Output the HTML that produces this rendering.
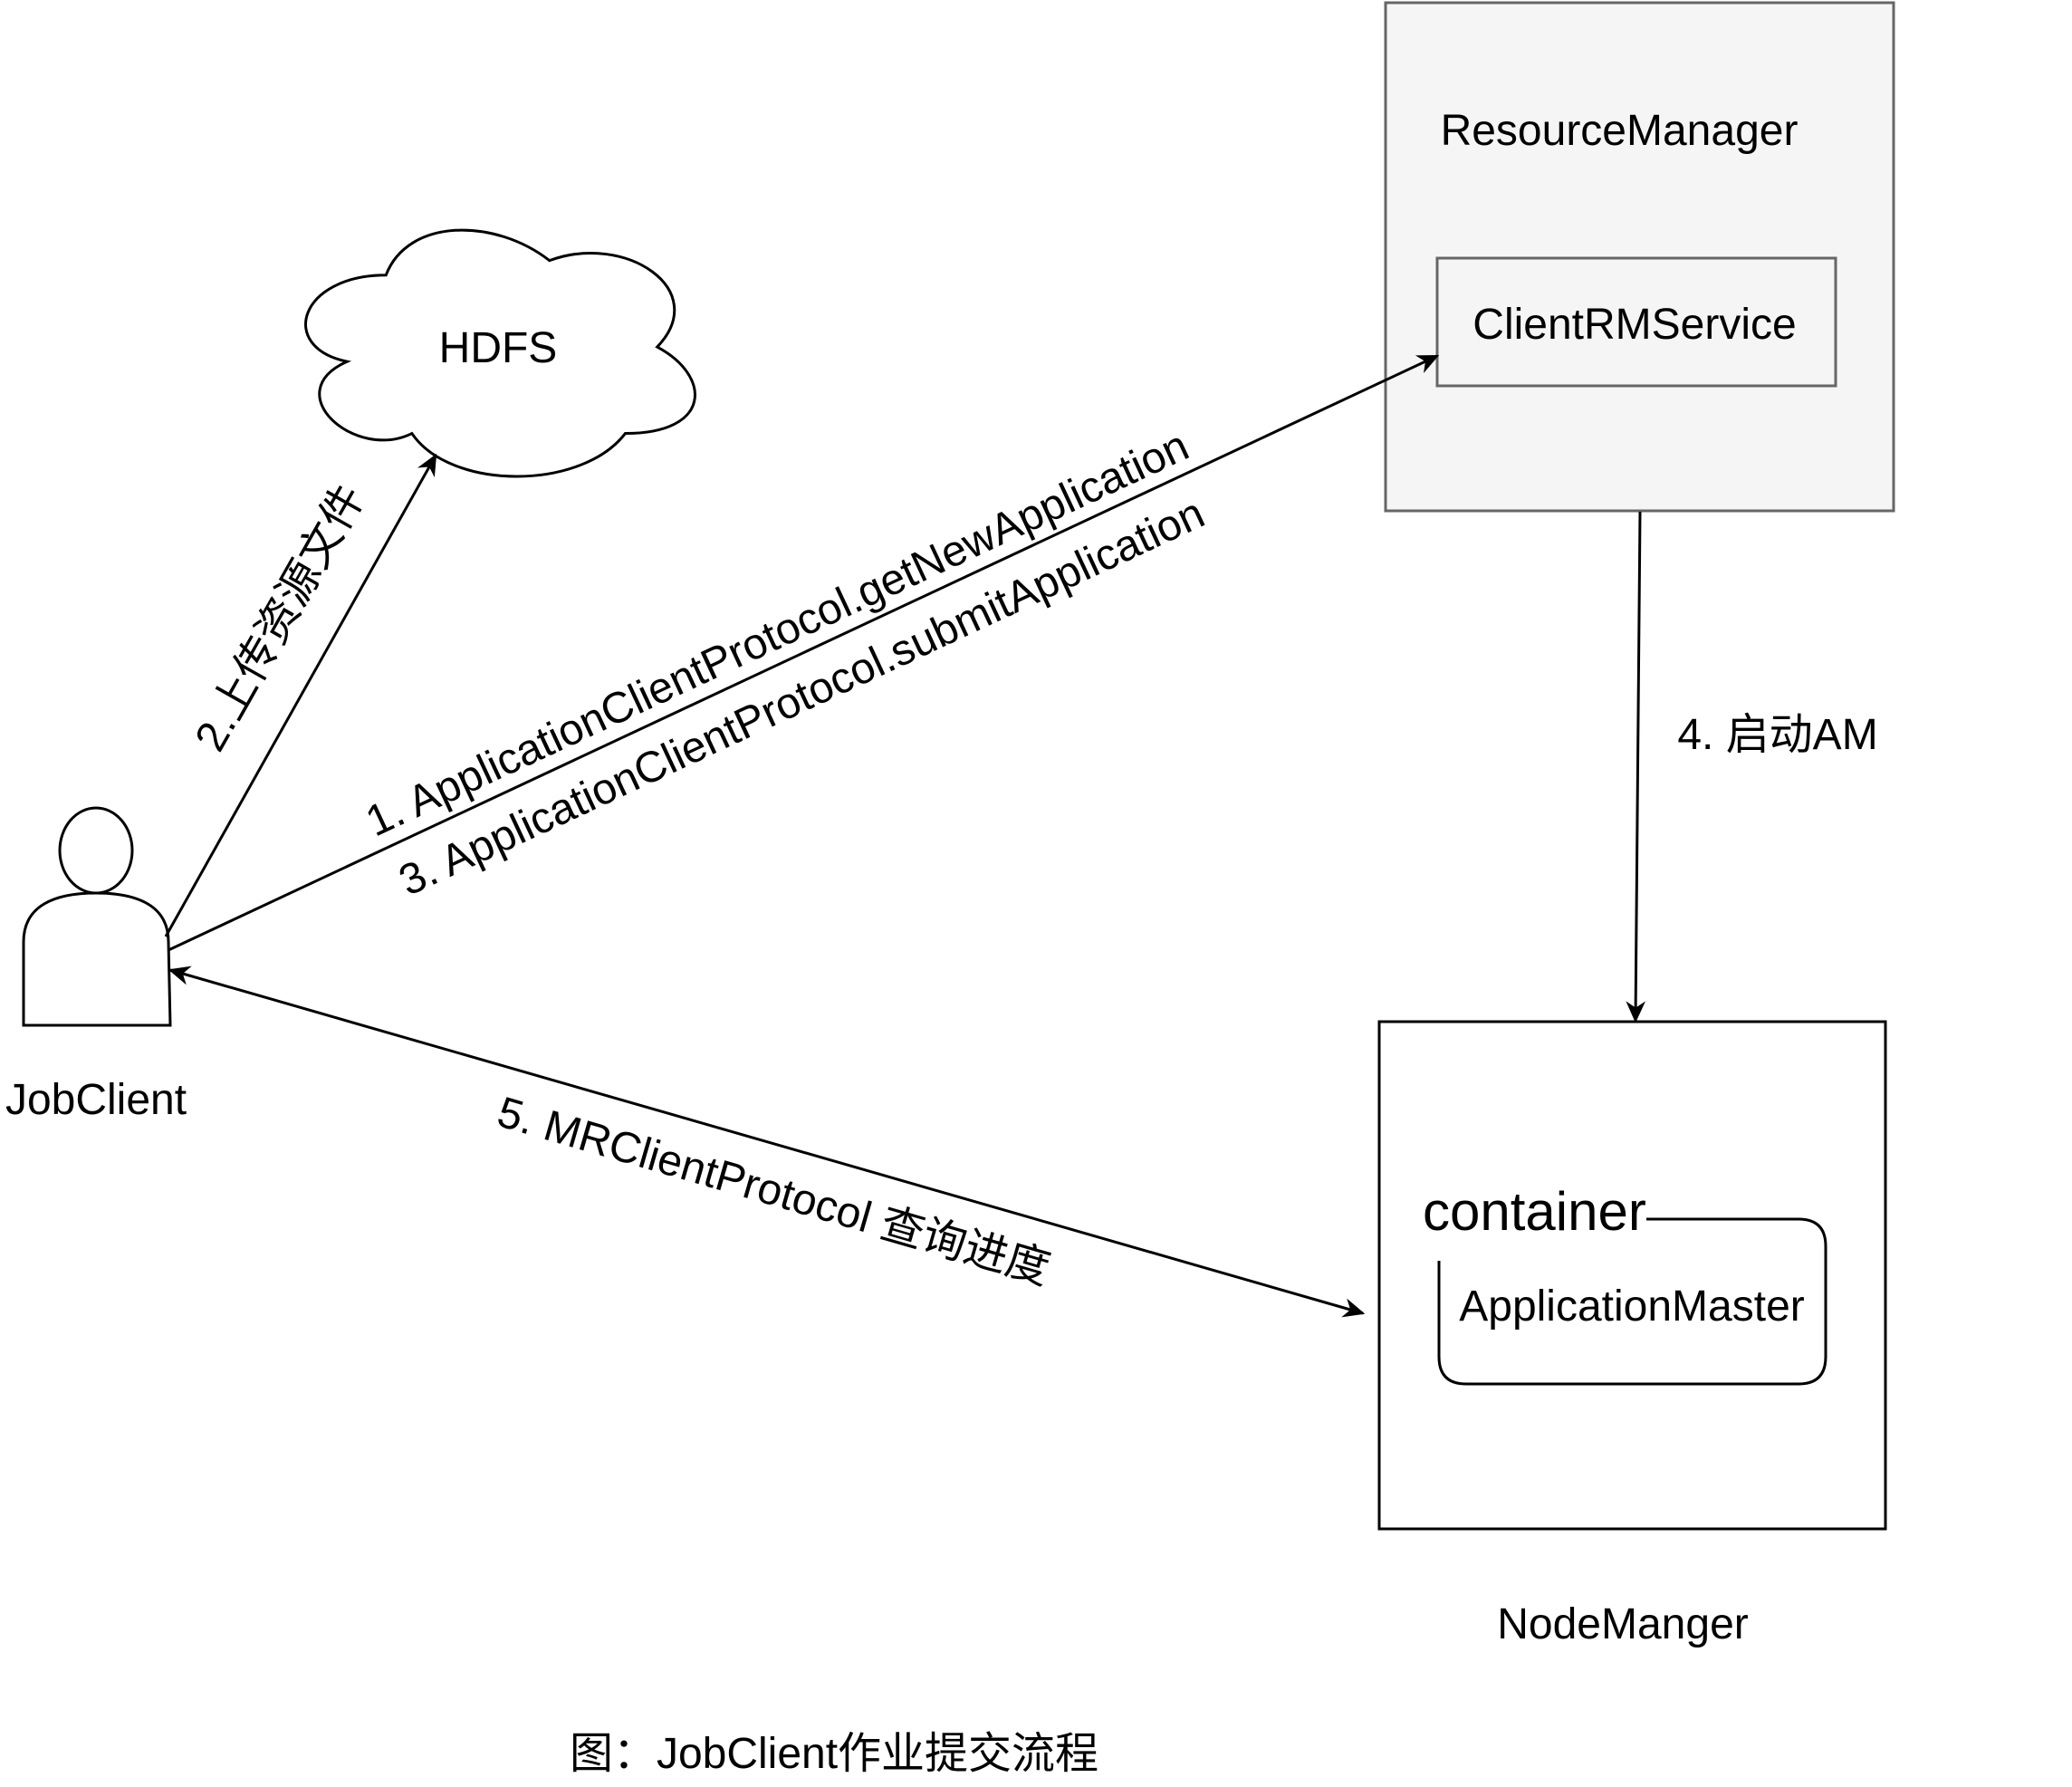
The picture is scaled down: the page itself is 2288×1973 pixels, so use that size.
<!DOCTYPE html>
<html><head><meta charset="utf-8"><style>
html,body{margin:0;padding:0;background:#fff;}
svg text{font-family:"Liberation Sans","Noto Sans CJK SC",sans-serif;fill:#000;}
</style></head><body>
<svg width="2288" height="1968" viewBox="0 0 2288 1968" xmlns="http://www.w3.org/2000/svg">
<defs>
<marker id="a" viewBox="0 0 20 20" refX="18" refY="10" markerWidth="24" markerHeight="24" markerUnits="userSpaceOnUse" orient="auto-start-reverse">
<path d="M0,1 L20,10 L0,19 L6,10 Z" fill="#000"/>
</marker>
</defs>
<rect x="1530" y="3" width="561" height="561" fill="#f5f5f5" stroke="#666" stroke-width="3"/>
<text x="1788" y="160" font-size="48" text-anchor="middle">ResourceManager</text>
<rect x="1587" y="285" width="440" height="141" fill="#f5f5f5" stroke="#666" stroke-width="3"/>
<text x="1805" y="374" font-size="48" text-anchor="middle">ClientRMService</text>
<g transform="translate(306.2,224.4) scale(1.101,1.15)">
<path d="M109,69 C22,69 0,138 70,152 C0,182 78,248 135,221 C174,276 305,276 349,221 C436,221 436,166 381,138 C436,83 349,28 273,55 C218,14 131,14 109,69 Z" fill="#fff" stroke="#000" stroke-width="3" vector-effect="non-scaling-stroke"/>
</g>
<text x="550" y="400" font-size="48" text-anchor="middle">HDFS</text>
<ellipse cx="106" cy="939" rx="40" ry="47" fill="#fff" stroke="#000" stroke-width="3"/>
<path d="M26,1132 L26,1040 C26,1000 60,986 106,986 C152,986 186,1000 186,1040 L188,1132 Z" fill="#fff" stroke="#000" stroke-width="3"/>
<text x="106" y="1230" font-size="48" text-anchor="middle">JobClient</text>
<rect x="1523" y="1128" width="559" height="560" fill="#fff" stroke="#000" stroke-width="3"/>
<text x="1792" y="1809" font-size="48" text-anchor="middle">NodeManger</text>
<text x="1571" y="1358" font-size="60">container</text>
<path d="M1818,1346 L1986,1346 Q2016,1346 2016,1376 L2016,1498 Q2016,1528 1986,1528 L1619,1528 Q1589,1528 1589,1498 L1589,1392" fill="none" stroke="#000" stroke-width="3"/>
<text x="1802" y="1458" font-size="48" text-anchor="middle">ApplicationMaster</text>
<line x1="1811" y1="565" x2="1806" y2="1127" stroke="#000" stroke-width="3" marker-end="url(#a)"/>
<text x="1963" y="827" font-size="48" text-anchor="middle">4. 启动AM</text>
<line x1="186" y1="1049" x2="1587" y2="393" stroke="#000" stroke-width="3" marker-end="url(#a)"/>
<line x1="183" y1="1034" x2="481" y2="503" stroke="#000" stroke-width="3" marker-end="url(#a)"/>
<line x1="188" y1="1071" x2="1505" y2="1450" stroke="#000" stroke-width="3" marker-start="url(#a)" marker-end="url(#a)"/>
<text transform="translate(865,714) rotate(-25)" font-size="48" text-anchor="middle">1. ApplicationClientProtocol.getNewApplication</text>
<text transform="translate(892,784) rotate(-25)" font-size="48" text-anchor="middle">3. ApplicationClientProtocol.submitApplication</text>
<text transform="translate(323,690) rotate(-60.5)" font-size="48" text-anchor="middle">2.上传资源文件</text>
<text transform="translate(850,1330) rotate(16.2)" font-size="48" text-anchor="middle">5. MRClientProtocol 查询进度</text>
<text x="921" y="1952" font-size="48" text-anchor="middle">图：JobClient作业提交流程</text>
</svg>
</body></html>
